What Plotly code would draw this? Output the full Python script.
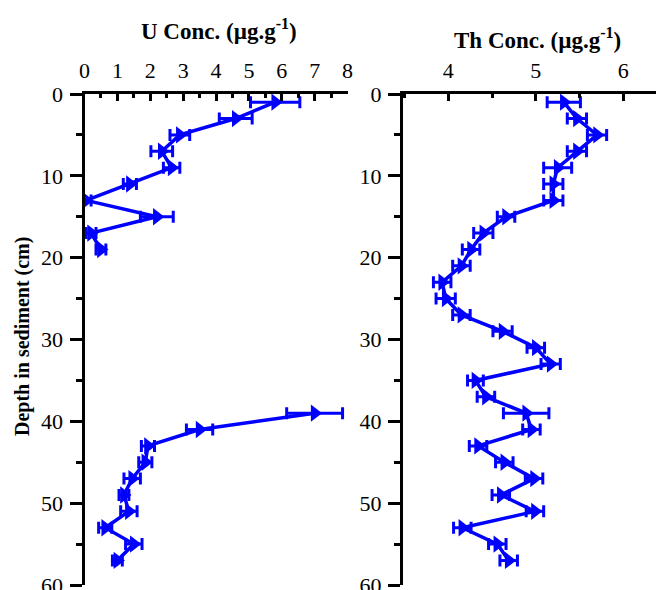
import plotly.graph_objects as go

# ---------------- data ----------------
# U concentration (µg/g) vs depth (cm); two depth intervals
u_depth_top = [1, 3, 5, 7, 9, 11, 13, 15, 17, 19]
u_conc_top = [5.8, 4.6, 2.9, 2.35, 2.65, 1.38, 0.05, 2.2, 0.2, 0.5]
u_err_top = [0.75, 0.5, 0.3, 0.33, 0.25, 0.2, 0.15, 0.5, 0.15, 0.15]

u_depth_bot = [39, 41, 43, 45, 47, 49, 51, 53, 55, 57]
u_conc_bot = [7.0, 3.5, 1.93, 1.85, 1.45, 1.2, 1.35, 0.63, 1.5, 1.0]
u_err_bot = [0.85, 0.4, 0.2, 0.2, 0.25, 0.15, 0.25, 0.2, 0.25, 0.15]

# Th concentration (µg/g) vs depth (cm)
th_depth = [1, 3, 5, 7, 9, 11, 13, 15, 17, 19, 21, 23, 25, 27, 29, 31, 33, 35, 37, 39,
            41, 43, 45, 47, 49, 51, 53, 55, 57]
th_conc = [5.32, 5.47, 5.7, 5.47, 5.25, 5.2, 5.2, 4.66, 4.4, 4.26, 4.15, 3.93, 3.97, 4.15,
           4.62, 5.0, 5.17, 4.31, 4.43, 4.89, 4.95, 4.34, 4.64, 4.98, 4.6, 4.99, 4.16, 4.56, 4.69]
th_err = [0.19, 0.11, 0.11, 0.11, 0.16, 0.11, 0.11, 0.1, 0.11, 0.1, 0.1, 0.1, 0.11, 0.1,
          0.11, 0.1, 0.11, 0.09, 0.1, 0.26, 0.1, 0.1, 0.1, 0.1, 0.1, 0.1, 0.1, 0.1, 0.1]

u_ticks = [0, 1, 2, 3, 4, 5, 6, 7, 8]
th_ticks = [4, 5, 6]
depth_ticks = [0, 10, 20, 30, 40, 50, 60]

y_title = "Depth in sediment (cm)"
u_title = "U Conc. (µg.g<sup>-1</sup>)"
th_title = "Th Conc. (µg.g<sup>-1</sup>)"

# ---------------- style ----------------
W, H = 656, 590
BLUE = "#0000ff"
FONT = "Liberation Serif, Times New Roman, serif"
LW = 3

yd = [1 - 585 / H, 1 - 94 / H]
xd1 = [84.5 / W, 347.5 / W]
xd2 = [403 / W, 1.0]
u_range = [0, 8]
th_range = [3.482, 6.374]


def series(x, y, err, xa, ya):
    return go.Scatter(
        x=x, y=y, xaxis=xa, yaxis=ya, mode="lines+markers",
        line=dict(color=BLUE, width=3.5),
        marker=dict(symbol="triangle-right", size=15, color=BLUE),
        error_x=dict(type="data", array=err, color=BLUE, thickness=3, width=6),
        showlegend=False, cliponaxis=False,
    )


fig = go.Figure()
fig.add_trace(series(u_conc_top, u_depth_top, u_err_top, "x", "y"))
fig.add_trace(series(u_conc_bot, u_depth_bot, u_err_bot, "x", "y"))
fig.add_trace(series(th_conc, th_depth, th_err, "x2", "y2"))

tickfont = dict(family=FONT, size=22, color="black")
common = dict(showline=True, linewidth=LW, linecolor="black", showgrid=False,
              zeroline=False, tickwidth=LW, tickcolor="black", tickfont=tickfont,
              automargin=False, ticklabeloverflow="allow")


def minor(dt, t0, kind, ln):
    return dict(dtick=dt, tick0=t0, ticks=kind, ticklen=ln, tickwidth=LW, tickcolor="black")


fig.update_layout(
    width=W, height=H, margin=dict(l=0, r=0, t=0, b=0, autoexpand=False),
    paper_bgcolor="white", plot_bgcolor="white",
    # panel 1
    xaxis=dict(domain=xd1, range=u_range, side="top", anchor="y",
               tickvals=u_ticks, ticks="inside", ticklen=7,
               minor=minor(0.5, 0, "inside", 4), ticklabelstandoff=4, **common),
    xaxis3=dict(domain=xd1, range=u_range, side="bottom", anchor="y", overlaying="x",
                tickvals=u_ticks, ticks="inside", ticklen=8, showticklabels=False,
                minor=minor(0.5, 0, "inside", 6), **common),
    yaxis=dict(domain=yd, range=[60, 0], anchor="x", tickvals=depth_ticks,
               ticks="outside", ticklen=12, minor=minor(5, 0, "outside", 6),
               ticklabelstandoff=2, **common),
    yaxis3=dict(domain=yd, range=[60, 0], anchor="x", overlaying="y", side="right",
                tickvals=depth_ticks, ticks="inside", ticklen=8, showticklabels=False,
                minor=minor(5, 0, "inside", 8), **common),
    # panel 2
    xaxis2=dict(domain=xd2, range=th_range, side="top", anchor="y2",
                tickvals=th_ticks, ticks="inside", ticklen=7,
                minor=minor(0.5, 4, "inside", 4), ticklabelstandoff=4, **common),
    xaxis4=dict(domain=xd2, range=th_range, side="bottom", anchor="y2", overlaying="x2",
                tickvals=th_ticks, ticks="inside", ticklen=9, showticklabels=False,
                minor=minor(0.5, 4, "inside", 9), **common),
    yaxis2=dict(domain=yd, range=[60, 0], anchor="x2", tickvals=depth_ticks,
                ticks="outside", ticklen=12, minor=minor(5, 0, "outside", 6),
                ticklabelstandoff=2, **common),
    yaxis4=dict(domain=yd, range=[60, 0], anchor="x2", overlaying="y2", side="right",
                tickvals=depth_ticks[1:-1], ticks="inside", ticklen=6, showticklabels=False,
                showline=False, showgrid=False, zeroline=False, tickwidth=LW,
                tickcolor="black", automargin=False),
)

# axis titles
fig.add_annotation(text=u_title, xref="paper", yref="paper", x=219 / W, y=1 - 29 / H,
                   showarrow=False, xanchor="center", yanchor="middle",
                   font=dict(family=FONT, size=23, color="black", weight="bold"))
fig.add_annotation(text=th_title, xref="paper", yref="paper", x=537 / W, y=1 - 39 / H,
                   showarrow=False, xanchor="center", yanchor="middle",
                   font=dict(family=FONT, size=23, color="black", weight="bold"))
fig.add_annotation(text=y_title, xref="paper", yref="paper", x=22 / W, y=1 - 337 / H,
                   showarrow=False, xanchor="center", yanchor="middle", textangle=-90,
                   font=dict(family=FONT, size=20, color="black", weight="bold"))

fig.write_html("out.html")
